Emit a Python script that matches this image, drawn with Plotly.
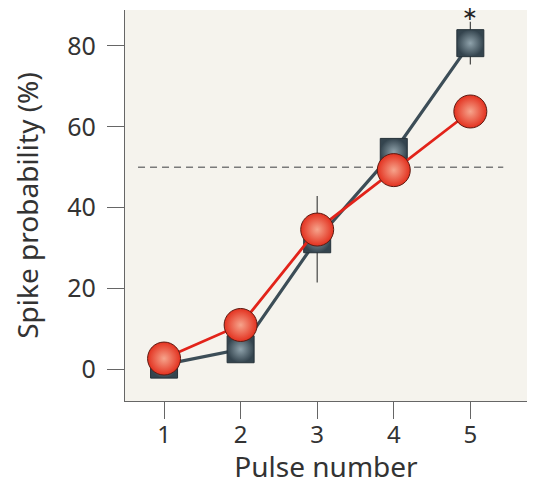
import plotly.graph_objects as go

pulses = [1, 2, 3, 4, 5]
ctrl_vals = [1.2, 5.0, 32.2, 53.8, 80.7]
ctrl_err = [0, 0, 10.7, 0, 5.3]
red_vals = [2.7, 11.0, 34.6, 49.3, 63.8]
tick_vals_y = [0, 20, 40, 60, 80]
threshold = 50
sig_label = "∗"
sig_pulse = 5
sig_y = 88.2

fig = go.Figure()

# dashed threshold line
fig.add_trace(go.Scatter(
    x=[0.66, 5.43], y=[threshold, threshold], mode="lines",
    line=dict(color="#7a7a7a", width=1.5, dash="7px,5px"),
    hoverinfo="skip", showlegend=False))

fig.add_trace(go.Scatter(
    x=pulses, y=ctrl_vals, mode="lines+markers",
    line=dict(color="#3c4d57", width=3.2),
    marker=dict(symbol="square", size=27, color="#34444e",
                gradient=dict(type="radial", color="#8fa2ab"),
                line=dict(color="#26323a", width=1)),
    error_y=dict(type="data", array=ctrl_err, visible=True,
                 color="#444444", thickness=1.2, width=0),
    showlegend=False))

fig.add_trace(go.Scatter(
    x=pulses, y=red_vals, mode="lines+markers",
    line=dict(color="#e2231a", width=2.8),
    marker=dict(symbol="circle", size=33, color="#e3311f",
                gradient=dict(type="radial", color="#f6a48c"),
                line=dict(color="#5c1a12", width=1)),
    showlegend=False))

fig.add_annotation(x=sig_pulse, y=sig_y, text=sig_label, showarrow=False,
                   font=dict(size=19, color="#222222", family="DejaVu Sans"),
                   yanchor="middle")

fig.update_layout(
    width=534, height=485,
    margin=dict(l=125, r=7, t=10, b=84),
    paper_bgcolor="white",
    plot_bgcolor="#f5f3ed",
    font=dict(family="Noto Sans", color="#333333"),
)
fig.update_xaxes(
    range=[0.49, 5.74], tickvals=pulses, ticks="outside", ticklen=17,
    tickwidth=1.3, tickcolor="#666666", showline=True, linecolor="#666666",
    linewidth=1.3, showgrid=False, zeroline=False, automargin=False,
    ticklabelstandoff=-5,
    tickfont=dict(size=24, color="#333333"),
    title=dict(text="Pulse number", font=dict(size=28, color="#333333"), standoff=10))
fig.update_yaxes(
    range=[-7.8, 88.9], tickvals=tick_vals_y, ticks="outside", ticklen=17,
    tickwidth=1.3, tickcolor="#666666", showline=True, linecolor="#666666",
    linewidth=1.3, showgrid=False, zeroline=False, ticklabelstandoff=6,
    automargin=False,
    tickfont=dict(size=25, color="#333333"),
    title=dict(text="Spike probability (%)", font=dict(size=28, color="#333333"), standoff=20))

fig.write_html("out.html", config={"displayModeBar": False},
               post_script="document.body.style.margin='0';document.body.style.overflow='hidden';")
